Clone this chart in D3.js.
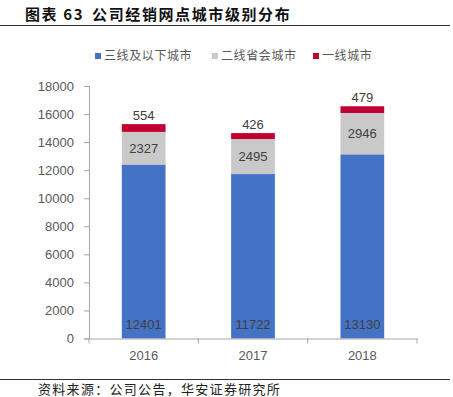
<!DOCTYPE html>
<html>
<head>
<meta charset="utf-8">
<script src="https://cdn.jsdelivr.net/npm/d3@7"></script>
<style>
  body { margin: 0; background: #fff; }
  svg { font-family: "Liberation Sans", Arial, sans-serif; }
</style>
</head>
<body>
<div id="chart"></div>
<script>
// Data
const years = ["2016", "2017", "2018"];
const tier3Below = [12401, 11722, 13130];
const tier2Capital = [2327, 2495, 2946];
const tier1 = [554, 426, 479];
const seriesNames = ["三线及以下城市", "二线省会城市", "一线城市"];
const yTicks = [0, 2000, 4000, 6000, 8000, 10000, 12000, 14000, 16000, 18000];

const colors = ["#4472C4", "#C9C9C9", "#C00030"];
const cjk = "'Noto Sans CJK SC', sans-serif";

const W = 453, H = 397;
const margin = {top: 86, right: 36, bottom: 58.5, left: 89};
const width = W - margin.left - margin.right;
const height = H - margin.top - margin.bottom;

const svg = d3.select("#chart")
    .append("svg")
    .attr("width", W)
    .attr("height", H);

// Title
const title = svg.append("text")
    .attr("x", 25)
    .attr("y", 20)
    .style("font-family", cjk)
    .style("font-size", "15px")
    .style("font-weight", "bold")
    .style("letter-spacing", "1.6px")
    .attr("fill", "#111");
title.append("tspan").text("图表 63");
title.append("tspan").attr("dx", 8).text("公司经销网点城市级别分布");

svg.append("line")
    .attr("x1", 0).attr("x2", 450)
    .attr("y1", 25.5).attr("y2", 25.5)
    .attr("stroke", "#333").attr("stroke-width", 1);

// Legend
const legendX = [95, 212, 313];
const legend = svg.append("g");
seriesNames.forEach((name, i) => {
    const g = legend.append("g").attr("transform", `translate(${legendX[i]}, 56)`);
    g.append("rect").attr("x", 0).attr("y", -3).attr("width", 6).attr("height", 6).attr("fill", colors[i]);
    g.append("text")
        .attr("x", 9)
        .attr("y", 0)
        .attr("dy", "0.35em")
        .style("font-family", cjk)
        .style("font-size", "12px")
        .style("letter-spacing", "0.6px")
        .attr("fill", "#595959")
        .text(name);
});

const plot = svg.append("g")
    .attr("transform", `translate(${margin.left}, ${margin.top})`);

const x = d3.scaleBand()
    .domain(years)
    .range([0, width])
    .paddingInner(0.6)
    .paddingOuter(0.3);

const y = d3.scaleLinear()
    .domain([0, 18000])
    .range([height, 0]);

// Stack
const rows = years.map((yr, i) => ({year: yr, a: tier3Below[i], b: tier2Capital[i], c: tier1[i]}));
const stacked = d3.stack().keys(["a", "b", "c"])(rows);

plot.selectAll(".layer")
    .data(stacked)
    .enter()
    .append("g")
    .attr("fill", (d, i) => colors[i])
    .selectAll("rect")
    .data(d => d)
    .enter()
    .append("rect")
    .attr("x", d => x(d.data.year))
    .attr("y", d => y(d[1]))
    .attr("width", x.bandwidth())
    .attr("height", d => y(d[0]) - y(d[1]));

// Y axis
const yAxis = plot.append("g")
    .call(d3.axisLeft(y).tickValues(yTicks).tickSize(5).tickPadding(10).tickFormat(d3.format("d")));
yAxis.select(".domain").attr("stroke", "#A6A6A6");
yAxis.selectAll(".tick line").attr("stroke", "#A6A6A6");
yAxis.selectAll("text").style("font-size", "13px").attr("fill", "#595959");

// X axis
const xAxis = plot.append("g")
    .attr("transform", `translate(0, ${height})`)
    .call(d3.axisBottom(x).tickSize(0).tickPadding(12));
xAxis.select(".domain").attr("stroke", "#A6A6A6");
xAxis.selectAll("text").style("font-size", "13px").attr("fill", "#595959");
xAxis.selectAll(".sep")
    .data(d3.range(years.length + 1))
    .enter()
    .append("line")
    .attr("x1", i => i * width / years.length)
    .attr("x2", i => i * width / years.length)
    .attr("y1", 0).attr("y2", 5)
    .attr("stroke", "#A6A6A6");

// Value labels
const labelColor = "#404040";
plot.selectAll(".lblA")
    .data(rows)
    .enter()
    .append("text")
    .attr("x", d => x(d.year) + x.bandwidth() / 2)
    .attr("y", height - 14)
    .attr("dy", "0.35em")
    .attr("text-anchor", "middle")
    .style("font-size", "13px")
    .attr("fill", labelColor)
    .text(d => d.a);

plot.selectAll(".lblB")
    .data(rows)
    .enter()
    .append("text")
    .attr("x", d => x(d.year) + x.bandwidth() / 2)
    .attr("y", d => y(d.a + d.b / 2))
    .attr("dy", "0.35em")
    .attr("text-anchor", "middle")
    .style("font-size", "13px")
    .attr("fill", labelColor)
    .text(d => d.b);

plot.selectAll(".lblC")
    .data(rows)
    .enter()
    .append("text")
    .attr("x", d => x(d.year) + x.bandwidth() / 2)
    .attr("y", d => y(d.a + d.b + d.c) - 4)
    .attr("text-anchor", "middle")
    .style("font-size", "13px")
    .attr("fill", labelColor)
    .text(d => d.c);

// Footer
svg.append("line")
    .attr("x1", 0).attr("x2", 450)
    .attr("y1", 379.5).attr("y2", 379.5)
    .attr("stroke", "#333").attr("stroke-width", 1);

svg.append("text")
    .attr("x", 38)
    .attr("y", 394)
    .style("font-family", cjk)
    .style("font-size", "13px")
    .style("letter-spacing", "1.3px")
    .attr("fill", "#222")
    .text("资料来源：公司公告，华安证券研究所");
</script>
</body>
</html>
